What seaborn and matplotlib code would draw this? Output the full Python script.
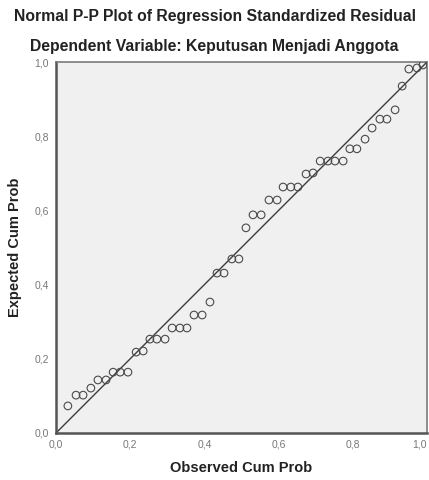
import matplotlib
matplotlib.use("Agg")
import matplotlib.pyplot as plt
import seaborn as sns
import pandas as pd

# observed vs expected cumulative probabilities
observed = [0.032, 0.054, 0.073, 0.094, 0.113, 0.135, 0.154, 0.173, 0.194, 0.216,
            0.235, 0.253, 0.272, 0.294, 0.313, 0.334, 0.353, 0.372, 0.394, 0.415,
            0.434, 0.453, 0.474, 0.493, 0.512, 0.531, 0.553, 0.574, 0.596, 0.612,
            0.633, 0.652, 0.674, 0.693, 0.712, 0.733, 0.752, 0.774, 0.792, 0.811,
            0.833, 0.852, 0.873, 0.892, 0.914, 0.933, 0.951, 0.973, 0.989]
expected = [0.073, 0.102, 0.102, 0.121, 0.143, 0.143, 0.164, 0.164, 0.164, 0.218,
            0.221, 0.253, 0.253, 0.253, 0.283, 0.283, 0.283, 0.318, 0.318, 0.353,
            0.431, 0.431, 0.469, 0.469, 0.553, 0.588, 0.588, 0.628, 0.628, 0.663,
            0.663, 0.663, 0.698, 0.701, 0.733, 0.733, 0.733, 0.733, 0.766, 0.766,
            0.792, 0.822, 0.846, 0.846, 0.871, 0.935, 0.981, 0.984, 0.992]
ref_line = [0.0, 1.0]
tick_values = [0.0, 0.2, 0.4, 0.6, 0.8, 1.0]
tick_labels = ["0,0", "0,2", "0,4", "0,6", "0,8", "1,0"]

title_1 = "Normal P-P Plot of Regression Standardized Residual"
title_2 = "Dependent Variable: Keputusan Menjadi Anggota"

df = pd.DataFrame({"observed": observed, "expected": expected})

sns.set_style("white")
plt.rcParams["font.family"] = ["Liberation Sans", "DejaVu Sans"]

fig = plt.figure(figsize=(4.29, 4.80), dpi=100)
ax = fig.add_axes([56 / 429, 47 / 480, 371 / 429, 371 / 480])
ax.set_facecolor("#f0f0f0")

ax.plot(ref_line, ref_line, color="#3c3c3c", lw=1.0, zorder=2)
sns.scatterplot(data=df, x="observed", y="expected", ax=ax, s=30,
                facecolor="none", edgecolor="#4a4a4a", linewidth=0.8, zorder=3)

ax.set_xlim(0, 1)
ax.set_ylim(0, 1)
ax.set_xticks(tick_values)
ax.set_yticks(tick_values)
ax.set_xticklabels(tick_labels)
ax.set_yticklabels(tick_labels)
ax.tick_params(axis="both", direction="out", length=4, width=1,
               color="#555555", labelcolor="#777777", labelsize=7.5, pad=1)
# keep the last x label inside the image
ax.get_xticklabels()[-1].set_horizontalalignment("right")
for sp in ax.spines.values():
    sp.set_color("#7a7a7a")
    sp.set_linewidth(1.2)
ax.spines["left"].set_color("#555555")
ax.spines["bottom"].set_color("#555555")
ax.spines["left"].set_linewidth(1.8)
ax.spines["bottom"].set_linewidth(1.8)

ax.set_xlabel("Observed Cum Prob", fontsize=10.5, fontweight="bold",
              color="#222222", labelpad=8)
ax.set_ylabel("Expected Cum Prob", fontsize=10.5, fontweight="bold",
              color="#222222", labelpad=9)

fig.text(0.5, 1 - 17 / 480, title_1, ha="center", va="center",
         fontsize=11.3, fontweight="bold", color="#222222")
fig.text(0.5, 1 - 47 / 480, title_2, ha="center", va="center",
         fontsize=11.3, fontweight="bold", color="#222222")

fig.savefig("out.png", dpi=100)
plt.close(fig)
